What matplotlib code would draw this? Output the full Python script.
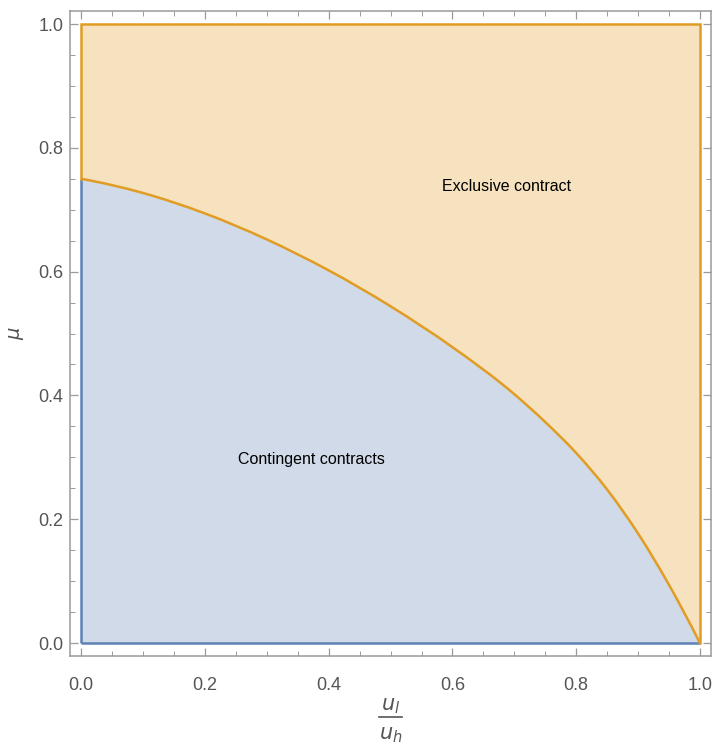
import matplotlib
matplotlib.use("Agg")
import matplotlib.pyplot as plt
from matplotlib.ticker import MultipleLocator
from matplotlib.lines import Line2D
from matplotlib.path import Path
from matplotlib.patches import PathPatch
import numpy as np

# Boundary between the two regimes: mu as a function of u_l/u_h
ratio = [0.0, 0.1, 0.2, 0.3, 0.4, 0.5, 0.6, 0.7, 0.75, 0.8, 0.85, 0.9, 0.95, 1.0]
mu_boundary = [0.75, 0.727, 0.694, 0.652, 0.602, 0.544, 0.478, 0.402, 0.357,
               0.307, 0.248, 0.177, 0.094, 0.0]

region_labels = ["Contingent contracts", "Exclusive contract"]
label_pos = [(0.372, 0.296), (0.687, 0.738)]
tick_values = [0.0, 0.2, 0.4, 0.6, 0.8, 1.0]

blue_edge, blue_fill = "#5E81B5", "#D0DAE8"
orange_edge, orange_fill = "#E19C24", "#F6E2BE"
frame_col = "#9A9A9A"
text_col = "#555555"

plt.rcParams["font.family"] = ["Liberation Sans", "DejaVu Sans"]


def smooth_segments(px, py):
    """Cubic Hermite curve through the points (three-point slopes), as Bezier path pieces."""
    x = np.asarray(px, float)
    y = np.asarray(py, float)
    h = np.diff(x)
    s = np.diff(y) / h
    m = np.empty_like(y)
    m[1:-1] = (s[:-1] * h[1:] + s[1:] * h[:-1]) / (h[:-1] + h[1:])
    m[0] = s[0] + (s[0] - s[1]) * h[0] / (h[0] + h[1])
    m[-1] = s[-1] + (s[-1] - s[-2]) * h[-1] / (h[-1] + h[-2])
    verts = [(x[0], y[0])]
    codes = [Path.MOVETO]
    for i in range(len(x) - 1):
        d = h[i] / 3.0
        verts += [(x[i] + d, y[i] + d * m[i]),
                  (x[i + 1] - d, y[i + 1] - d * m[i + 1]),
                  (x[i + 1], y[i + 1])]
        codes += [Path.CURVE4] * 3
    return np.array(verts), codes


fig = plt.figure(figsize=(7.15, 7.46), dpi=100)
ax = fig.add_axes([0.098, 0.1206, 0.8965, 0.8646])

cv, cc = smooth_segments(ratio, mu_boundary)

# region below the boundary (curve runs from (0, mu0) to (1, 0))
below_v = np.vstack([cv, [[0, 0], [0, mu_boundary[0]], [0, 0]]])
below_c = cc + [Path.LINETO, Path.LINETO, Path.CLOSEPOLY]
ax.add_patch(PathPatch(Path(below_v, below_c), facecolor=blue_fill, lw=0, zorder=1))
# region above the boundary
above_v = np.vstack([cv, [[1, 1], [0, 1], [0, 0]]])
above_c = cc + [Path.LINETO, Path.LINETO, Path.CLOSEPOLY]
ax.add_patch(PathPatch(Path(above_v, above_c), facecolor=orange_fill, lw=0, zorder=1))

lw = 1.8
# contingent-contract region edges
ax.plot([0, 0], [0, mu_boundary[0]], color=blue_edge, lw=lw, zorder=3, solid_capstyle="butt")
ax.plot([0, 1], [0, 0], color=blue_edge, lw=lw, zorder=3, solid_capstyle="butt")
# exclusive-contract region edges
ax.plot([0, 0, 1, 1], [mu_boundary[0], 1, 1, 0], color=orange_edge, lw=lw, zorder=4,
        solid_joinstyle="miter")
ax.add_patch(PathPatch(Path(cv, cc), facecolor="none", edgecolor=orange_edge, lw=lw, zorder=4))

for txt, (tx, ty) in zip(region_labels, label_pos):
    ax.text(tx, ty, txt, ha="center", va="center", fontsize=11.5, color="black", zorder=5)

ax.set_xlim(-0.018, 1.018)
ax.set_ylim(-0.021, 1.021)
ax.set_xticks(tick_values)
ax.set_yticks(tick_values)
ax.set_xticklabels([f"{v:.1f}" for v in tick_values])
ax.set_yticklabels([f"{v:.1f}" for v in tick_values])
ax.xaxis.set_minor_locator(MultipleLocator(0.05))
ax.yaxis.set_minor_locator(MultipleLocator(0.05))
ax.tick_params(which="both", direction="in", top=True, right=True, color=frame_col,
               labelcolor=text_col, labelsize=13)
ax.tick_params(which="major", length=6, width=0.9)
ax.tick_params(which="minor", length=3.5, width=0.7)
ax.tick_params(axis="y", which="major", pad=5)
ax.tick_params(axis="x", which="major", pad=15)
for sp in ax.spines.values():
    sp.set_color(frame_col)
    sp.set_linewidth(1.1)

# axis labels: stacked fraction u_l / u_h and mu
cx = (81 + 700) / 2 / 715
fig.text(cx, 1 - 706 / 746, r"$u_l$", ha="center", va="center", fontsize=15, color=text_col)
fig.add_artist(Line2D([cx - 11 / 715, cx + 11 / 715], [1 - 717 / 746, 1 - 717 / 746],
                      color=text_col, lw=1.2, transform=fig.transFigure))
fig.text(cx, 1 - 735 / 746, r"$u_h$", ha="center", va="center", fontsize=15, color=text_col)
fig.text(17 / 715, 1 - 333 / 746, r"$\mu$", ha="center", va="center", rotation=90,
         fontsize=14, color=text_col)

fig.savefig("out.png", dpi=100)
